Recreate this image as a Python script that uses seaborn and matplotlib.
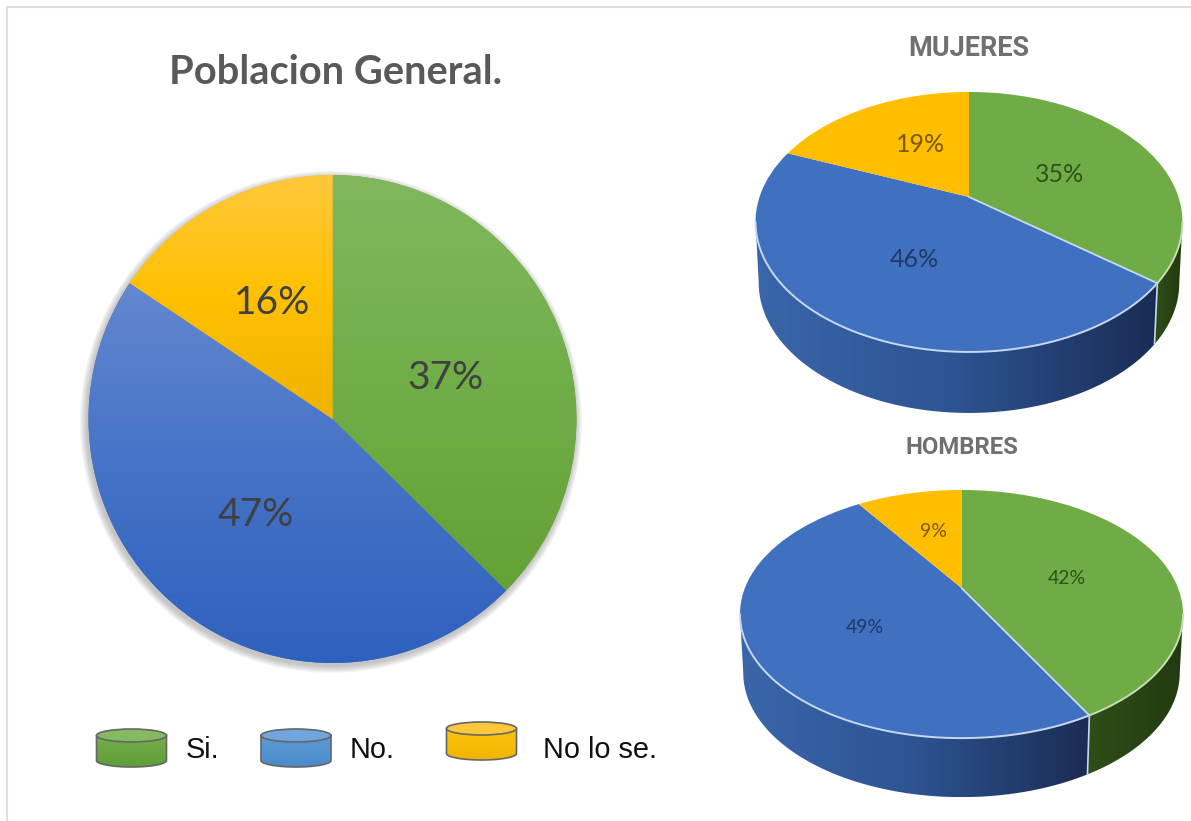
import numpy as np
import matplotlib
matplotlib.use("Agg")
import matplotlib.pyplot as plt
import seaborn as sns
from matplotlib.colors import LinearSegmentedColormap
from matplotlib.patches import Polygon, Ellipse
from matplotlib.transforms import Transform

categorias = ["Si.", "No.", "No lo se."]
general = [37.4, 47.0, 15.6]
mujeres = [35.4, 45.7, 18.9]
hombres = [42.0, 48.6, 9.4]

sns.set_theme(style="white")
plt.rcParams['font.family'] = ['Liberation Sans', 'DejaVu Sans']
colores = sns.color_palette(["#6FAC46", "#4070C0", "#FFBE00"])

W, H = 1191, 821
fig = plt.figure(figsize=(W / 100, H / 100), dpi=100)
ax = fig.add_axes([0, 0, 1, 1])


class Perspectiva(Transform):
    # circulo unidad -> elipse en pixeles, con el vertice fuera del centro
    input_dims = 2
    output_dims = 2
    is_separable = False

    def __init__(self, cx, cy, a, b, k=0.0):
        super().__init__()
        self.cx, self.cy, self.a, self.b, self.k = cx, cy, a, b, k

    def transform_non_affine(self, xy):
        xy = np.asarray(xy, dtype=float)
        w = 1 + self.k * xy[:, 1]
        return np.column_stack([self.cx + self.a * xy[:, 0] / w,
                                self.cy - self.b * xy[:, 1] / w])


def gradiente(clip, cols, caja, vertical=True, zorder=1.5):
    x0, x1, y0, y1 = caja
    cmap = LinearSegmentedColormap.from_list("g", cols)
    grid = np.linspace(0, 1, 256).reshape(-1, 1) if vertical else np.linspace(0, 1, 256).reshape(1, -1)
    im = ax.imshow(grid, cmap=cmap, extent=(x0, x1, y1, y0), origin='upper',
                   aspect='auto', zorder=zorder, vmin=0, vmax=1)
    im.set_clip_path(clip)
    return im


def caja_de(tr, wedge):
    pts = tr.transform(wedge.get_path().vertices)
    return pts[:, 0].min(), pts[:, 0].max(), pts[:, 1].min(), pts[:, 1].max()


def pastel(valores, tr, fuente, color_txt, ajustes, alpha=1.0):
    wedges, _, autotexts = ax.pie(valores, colors=colores, startangle=90, counterclock=False,
                                  autopct='%.0f%%', pctdistance=0.5, frame=True,
                                  wedgeprops=dict(linewidth=0))
    for w in wedges:
        w.set_transform(tr + ax.transData)
    for t, c, (dx, dy) in zip(autotexts, color_txt, ajustes):
        x, y = t.get_position()
        t.set_position((x + dx, y + dy))
        t.set_transform(tr + ax.transData)
        t.set_fontsize(fuente)
        t.set_color(c)
        t.set_alpha(alpha)
        t.set_family(['Lato', 'DejaVu Sans'])
    return wedges, autotexts


# ---------- Poblacion General (con sombra y degradado) ----------
tr_general = Perspectiva(332.5, 419, 244, 244)
for r in np.arange(1.028, 1.0, -0.005):
    sombra, _ = ax.pie([1], colors=["#707070"], radius=r, frame=True,
                       wedgeprops=dict(linewidth=0, alpha=0.08))
    sombra[0].set_transform(Perspectiva(331, 422, 244, 244) + ax.transData)

wedges, _ = pastel(general, tr_general, 28, ["#404040"] * 3,
                   [(0, -0.024), (0, -0.006), (-0.012, 0.035)])
grad_general = [["#82B75E", "#70AE48", "#64A236"],
                ["#6487D0", "#4472C6", "#2E61BE"],
                ["#FFC83C", "#FFC000", "#EFB300"]]
for w, cols in zip(wedges, grad_general):
    gradiente(w, cols, caja_de(tr_general, w))


# ---------- pasteles 3D ----------
def pastel3d(valores, cx, cy, a, b, k, prof, fuente, ajustes):
    tr = Perspectiva(cx, cy, a, b, k)
    wedges, textos = pastel(valores, tr, fuente, ["#1F3A10", "#1B2C50", "#5A3F00"], ajustes, alpha=0.8)
    ini = np.degrees(-np.arcsin(k))
    fin = -180 - ini
    pared_cols = [["#2F4E18", "#223A10"], ["#3A66AA", "#2D5392", "#1A2C54"], ["#806000", "#604800"]]
    borde_cols = ["#C9DDB4", "#C6D9F0", "#FFE9A0"]

    for w, cols, borde in zip(wedges, pared_cols, borde_cols):
        t1, t2 = max(w.theta1, fin), min(w.theta2, ini)
        if t1 >= t2:
            continue
        ang = np.radians(np.linspace(t1, t2, 80))
        arriba = tr.transform(np.column_stack([np.cos(ang), np.sin(ang)]))
        abajo = np.column_stack([cx + (arriba[:, 0] - cx) * 0.985, arriba[:, 1] + prof])
        pared = Polygon(np.vstack([arriba, abajo[::-1]]), closed=True, fc='none', ec='none')
        ax.add_patch(pared)
        pts = pared.get_xy()
        gradiente(pared, cols, (pts[:, 0].min(), pts[:, 0].max(), pts[:, 1].min(), pts[:, 1].max()),
                  vertical=False, zorder=0.5)
        ax.plot(arriba[:, 0], arriba[:, 1], color=borde, lw=1.4, zorder=2)

    # separacion Si / No: radio y arista de la pared
    t = np.radians(wedges[0].theta1)
    ax.plot([0, np.cos(t)], [0, np.sin(t)], color="#C6D9F0", lw=1.3, zorder=2,
            transform=tr + ax.transData)
    p = tr.transform(np.array([[np.cos(t), np.sin(t)]]))[0]
    ax.plot([p[0], cx + (p[0] - cx) * 0.985], [p[1], p[1] + prof], color="#C6D9F0", lw=1.2, zorder=2)


pastel3d(mujeres, 969, 197, 209.5, 125.2, 0.192, 61, 18,
         [(0, -0.035), (0.01, -0.02), (0.03, 0.04)])
pastel3d(hombres, 961.5, 588, 216.6, 118.6, 0.21, 59, 14,
         [(0.01, -0.045), (0.012, -0.055), (0, 0.055)])


# ---------- leyenda dibujada a mano (cilindros) ----------
def cilindro(x, y, w, h, tapa, cuerpo):
    ey = 13
    ang = np.radians(np.linspace(180, 360, 60))
    base = np.column_stack([x + w / 2 + w / 2 * np.cos(ang), y + h - ey / 2 - ey / 2 * np.sin(ang)])
    base = base[::-1]
    forma = Polygon(np.vstack([[[x, y + ey / 2], [x + w, y + ey / 2]], base]), closed=True,
                    fc='none', ec='#666666', lw=1.2, zorder=2)
    ax.add_patch(forma)
    gradiente(forma, cuerpo, (x, x + w, y, y + h), zorder=1.5)
    ax.add_patch(Ellipse((x + w / 2, y + ey / 2), w, ey, fc=tapa, ec='#666666', lw=1.2, zorder=3))


cilindro(96.5, 729, 70, 38, "#85BA60", ["#78B24F", "#5F9E37"])
cilindro(261, 729, 70, 38, "#6FA6DD", ["#5F9FD9", "#4A8CCB"])
cilindro(446.5, 722, 70, 38, "#FFC73A", ["#FFC811", "#F0B400"])
ley_x = [186, 350, 543]
for x, nombre in zip(ley_x, categorias):
    ax.text(x, 750.5, nombre, fontsize=20.8, color="#111111", ha='left', va='center')

# ---------- titulos ----------
ax.text(335.5, 73, "Poblacion General.", fontsize=28.7, fontweight='bold', color="#595959",
        family=['Lato', 'DejaVu Sans'], ha='center', va='center')
ax.text(968.5, 48, "MUJERES", fontsize=19.5, fontweight='bold', color="#707070",
        family=['Roboto', 'DejaVu Sans'], ha='center', va='center')
ax.text(962, 448, "HOMBRES", fontsize=17.2, fontweight='bold', color="#707070",
        family=['Roboto', 'DejaVu Sans'], ha='center', va='center')

# marco fino de la captura
ax.plot([7, 7, W], [H, 7, 7], color="#DEDEDE", lw=1.5, zorder=0.2)

ax.set_xlim(0, W)
ax.set_ylim(H, 0)
ax.set_aspect('auto')
ax.axis('off')
fig.savefig("out.png", dpi=100)
